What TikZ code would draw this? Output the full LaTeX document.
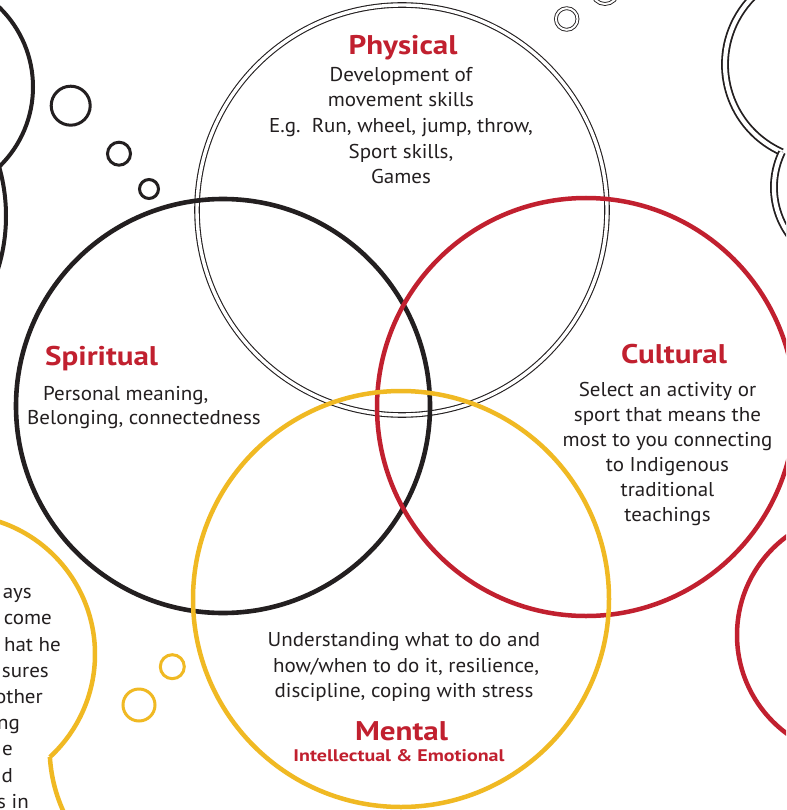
\documentclass[tikz,border=0pt]{standalone}
\usepackage{fontspec}
\setmainfont{PT Sans}[FakeStretch=1.05]
\newfontfamily\headfont{PT Sans}[FakeStretch=1.15]
\newfontfamily\subfont{PT Sans}[FakeStretch=1.19]
\definecolor{vred}{RGB}{193,32,47}
\definecolor{vyel}{RGB}{240,185,35}
\definecolor{vtxt}{RGB}{35,31,32}
\begin{document}
\begin{tikzpicture}[x=1pt,y=-1pt,
  body/.style={text=vtxt, font=\fontsize{20}{25}\selectfont, inner sep=0pt, anchor=base},
  bodyw/.style={body, anchor=base west},
  bodye/.style={body, anchor=base east},
  head/.style={text=vred, font=\headfont\bfseries\fontsize{27}{30}\selectfont, inner sep=0pt, anchor=base},
  sub/.style={text=vred, font=\subfont\bfseries\fontsize{16.8}{20}\selectfont, inner sep=0pt, anchor=base},
  thinring/.style={draw=vtxt, double=white, line width=1.1pt, double distance=3.4pt},
  cloudring/.style={draw=vtxt, double=white, line width=1.8pt, double distance=4.2pt},
  tinyring/.style={draw=vtxt, double=white, line width=0.9pt, double distance=2pt},
  blkline/.style={draw=vtxt, line width=4pt},
  blkthin/.style={draw=vtxt, line width=3pt},
  redline/.style={draw=vred, line width=4.5pt},
  yelline/.style={draw=vyel, line width=4.5pt},
  yelthin/.style={draw=vyel, line width=3pt}
]
\useasboundingbox (0,0) rectangle (786,810);
\clip (0,0) rectangle (786,810);
\fill[white] (0,0) rectangle (786,810);

% left black cloud and bubbles
\draw[blkline] (-78,87) circle[radius=111];
\draw[blkline] (-173,216) circle[radius=179];
\draw[blkthin] (70.7,105.7) circle[radius=19.5];
\draw[blkthin] (119,153.7) circle[radius=11.5];
\draw[blkthin] (149,189) circle[radius=9.5];

% top right double cloud and bubbles
\draw[cloudring] (821,64.5) ++(114:96) coordinate (cuspA) arc[start angle=114, end angle=260, radius=96];
\draw[cloudring] (cuspA) arc[start angle=205.7, end angle=130, radius=81];
\draw[tinyring] (566.7,19) circle[radius=10.8];
\draw[tinyring] (605,-9) circle[radius=13];

% right red cloud
\draw[redline] (859.5,635) circle[radius=122.5];

% bottom left yellow cloud and bubbles
\draw[yelline] (-44.6,654.3) ++(-85:139.6) arc[start angle=-85, end angle=47.4, radius=139.6] coordinate (cuspB);
\draw[yelline] (cuspB) arc[start angle=176.6, end angle=150, radius=152.3];
\draw[yelthin] (172.3,666.7) circle[radius=12];
\draw[yelthin] (139,705) circle[radius=16];

% Venn circles
\draw[thinring] (402,210) circle[radius=205];
\draw[blkline, line width=4.6pt] (223,406) circle[radius=207];
\draw[redline] (586,407) circle[radius=209];
\draw[yelline] (401,599) circle[radius=208];

% Physical
\node[head] (phys) at (403,54.3) {Physical};
\node[body] (p1) at (401,81.7) {Development of};
\node[body] (p2) at (401,107) {movement skills};
\node[body] (p3) at (401,132.7) {E.g.\ \ Run, wheel, jump, throw,};
\node[body] (p4) at (401,158.3) {Sport skills,};
\node[body] (p5) at (401,183.3) {Games};

% Spiritual
\node[head, anchor=base west] (spir) at (45,365) {Spiritual};
\node[bodyw] (s1) at (43,400) {Personal meaning,};
\node[bodyw] (s2) at (27,424) {Belonging, connectedness};

% Cultural
\node[head] (cult) at (674,363.3) {Cultural};
\node[body] (c1) at (667.5,396.7) {Select an activity or};
\node[body] (c2) at (667.5,421.7) {sport that means the};
\node[body] (c3) at (667.5,446.7) {most to you connecting};
\node[body] (c4) at (667.5,471.7) {to Indigenous};
\node[body] (c5) at (667.5,496.7) {traditional};
\node[body] (c6) at (667.5,521.7) {teachings};

% Mental
\node[body] (m1) at (404,646.7) {Understanding what to do and};
\node[body] (m2) at (406,672) {how/when to do it, resilience,};
\node[body] (m3) at (404,697) {discipline, coping with stress};
\node[head] (ment) at (401.5,740) {Mental};
\node[sub] (msub) at (399,761.7) {Intellectual \& Emotional};

% clipped text in the yellow cloud
\node[bodye] (y1) at (32,598.5) {ays};
\node[bodye] (y2) at (52,624.7) {come};
\node[bodye] (y3) at (61,651) {hat he};
\node[bodye] (y4) at (49,677) {sures};
\node[bodye] (y5) at (43,703) {other};
\node[bodye] (y6) at (20,729.5) {ng};
\node[bodye] (y7) at (13,755.7) {e};
\node[bodye] (y8) at (13,782) {d};
\node[bodye] (y9) at (29,808) {s in};
\end{tikzpicture}
\end{document}
